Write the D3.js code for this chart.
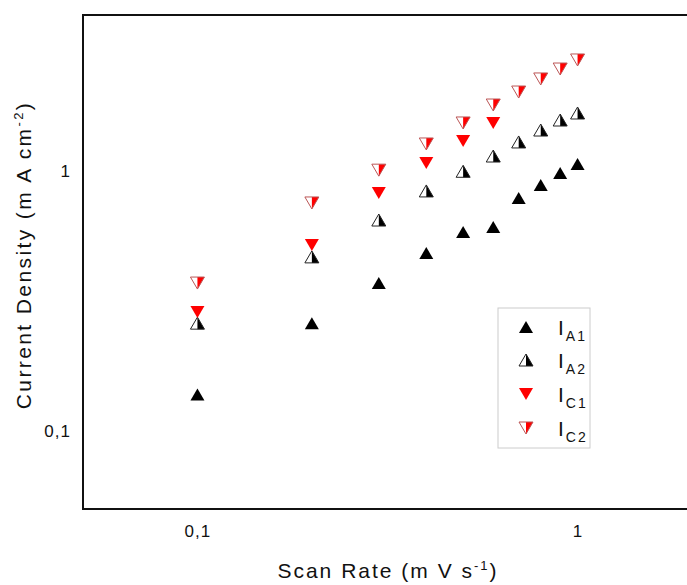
<!DOCTYPE html>
<html>
<head>
<meta charset="utf-8">
<script src="https://cdn.jsdelivr.net/npm/d3@7"></script>
<style>
  body { margin: 0; background: #fff; }
  text { font-family: "Liberation Sans", Arial, sans-serif; fill: #111; }
</style>
</head>
<body>
<div id="chart"></div>
<script>
(function(d3) {
    // scan rates (mV/s)
    var scanRates = [0.1, 0.2, 0.3, 0.4, 0.5, 0.6, 0.7, 0.8, 0.9, 1.0];
    // current densities (mA/cm2)
    var iA1 = [0.138, 0.26, 0.371, 0.484, 0.583, 0.61, 0.789, 0.885, 0.985, 1.067];
    var iA2 = [0.26, 0.468, 0.649, 0.84, 1.0, 1.145, 1.297, 1.442, 1.576, 1.677];
    var iC1 = [0.287, 0.52, 0.825, 1.076, 1.308, 1.535, null, null, null, null];
    var iC2 = [0.371, 0.755, 1.01, 1.274, 1.535, 1.80, 2.02, 2.268, 2.477, 2.684];
    var seriesNames = ["A1", "A2", "C1", "C2"];
    var xTicks = [0.1, 1];
    var yTicks = [0.1, 1];

    var width = 687, height = 585;
    var left = 83, top = 15, bottom = 509, right = 692;

    var svg = d3.select("#chart").append("svg")
        .attr("width", width)
        .attr("height", height);

    var xScale = d3.scaleLog().domain([0.05, 2]).range([left, right]);
    var yScale = d3.scaleLog().domain([0.05, 4]).range([bottom, top]);

    // frame
    svg.append("rect")
        .attr("x", left).attr("y", top)
        .attr("width", right - left).attr("height", bottom - top)
        .attr("fill", "none")
        .attr("stroke", "#111")
        .attr("stroke-width", 2);

    var fmt = function(d) { return String(d).replace(".", ","); };

    var xAxis = d3.axisBottom(xScale).tickValues(xTicks).tickSize(0).tickPadding(16).tickFormat(fmt);
    var gx = svg.append("g").attr("transform", "translate(0," + bottom + ")").call(xAxis);
    gx.select(".domain").remove();

    var yAxis = d3.axisLeft(yScale).tickValues(yTicks).tickSize(0).tickPadding(12).tickFormat(fmt);
    var gy = svg.append("g").attr("transform", "translate(" + left + ",0)").call(yAxis);
    gy.select(".domain").remove();

    svg.selectAll(".tick text")
        .attr("font-family", "Liberation Sans, Arial, sans-serif")
        .attr("font-size", 17)
        .attr("letter-spacing", 1)
        .attr("fill", "#111");

    // axis titles
    var xt = svg.append("text")
        .attr("x", 388).attr("y", 578)
        .attr("text-anchor", "middle")
        .attr("font-size", 21)
        .attr("letter-spacing", 2);
    xt.append("tspan").text("Scan Rate (m V  s");
    xt.append("tspan").attr("dy", -8).attr("font-size", 13).text("-1");
    xt.append("tspan").attr("dy", 8).text(")");

    var yt = svg.append("text")
        .attr("transform", "translate(31,255) rotate(-90)")
        .attr("text-anchor", "middle")
        .attr("font-size", 21)
        .attr("letter-spacing", 2.4);
    yt.append("tspan").text("Current Density (m A  cm");
    yt.append("tspan").attr("dy", -8).attr("font-size", 13).text("-2");
    yt.append("tspan").attr("dy", 8).text(")");

    // marker drawing
    var w = 7, h = 6;
    var upTri = "M0," + (-h) + "L" + w + "," + h + "L" + (-w) + "," + h + "Z";
    var upLeft = "M0," + (-h) + "L0," + h + "L" + (-w) + "," + h + "Z";
    var upRight = "M0," + (-h) + "L" + w + "," + h + "L0," + h + "Z";
    var dnTri = "M" + (-w) + "," + (-h) + "L" + w + "," + (-h) + "L0," + h + "Z";
    var dnLeft = "M" + (-w) + "," + (-h) + "L0," + (-h) + "L0," + h + "Z";
    var dnRight = "M0," + (-h) + "L" + w + "," + (-h) + "L0," + h + "Z";

    function drawMarker(g, type) {
        if (type === "A1") {
            g.append("path").attr("d", upTri).attr("fill", "#000");
        } else if (type === "A2") {
            g.append("path").attr("d", upLeft).attr("fill", "#fff");
            g.append("path").attr("d", upRight).attr("fill", "#000");
            g.append("path").attr("d", upTri).attr("fill", "none").attr("stroke", "#222").attr("stroke-width", 1);
        } else if (type === "C1") {
            g.append("path").attr("d", dnTri).attr("fill", "#f00");
        } else {
            g.append("path").attr("d", dnLeft).attr("fill", "#fff");
            g.append("path").attr("d", dnRight).attr("fill", "#f00");
            g.append("path").attr("d", dnTri).attr("fill", "none").attr("stroke", "#b55").attr("stroke-width", 1);
        }
    }

    var allSeries = [iA1, iA2, iC1, iC2];
    allSeries.forEach(function(vals, k) {
        var pts = scanRates.map(function(r, i) { return { x: r, y: vals[i] }; })
            .filter(function(p) { return p.y != null; });
        svg.append("g").selectAll("g")
            .data(pts)
            .enter()
            .append("g")
            .attr("transform", function(d) { return "translate(" + xScale(d.x) + "," + yScale(d.y) + ")"; })
            .each(function() { drawMarker(d3.select(this), seriesNames[k]); });
    });

    // legend
    var legend = svg.append("g").attr("transform", "translate(498,308)");
    legend.append("rect")
        .attr("width", 92).attr("height", 140)
        .attr("fill", "#fff")
        .attr("stroke", "#ccc")
        .attr("stroke-width", 1);
    var rowY = [19, 52, 86, 120];
    seriesNames.forEach(function(name, i) {
        var row = legend.append("g").attr("transform", "translate(28," + rowY[i] + ")");
        drawMarker(row, name);
        var t = row.append("text")
            .attr("x", 32).attr("y", 8)
            .attr("font-size", 21);
        t.append("tspan").text("I");
        t.append("tspan").attr("dy", 6).attr("dx", 2).attr("font-size", 14)
            .attr("letter-spacing", 2).text(name);
    });
})(window.d3);
</script>
</body>
</html>
